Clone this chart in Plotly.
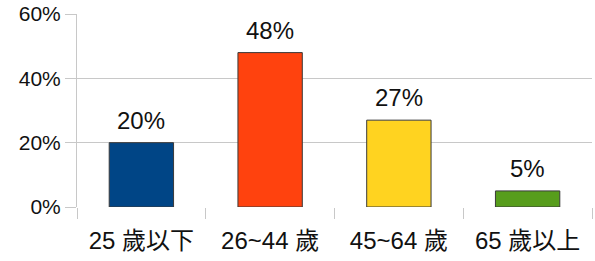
import plotly.graph_objects as go

categories = ["25 歲以下", "26~44 歲", "45~64 歲", "65 歲以上"]
values = [20, 48, 27, 5]
colors = ["#004586", "#ff420e", "#ffd320", "#579d1c"]
y_ticks = [0, 20, 40, 60]

font_family = "Liberation Sans, Arial, Noto Sans CJK TC, sans-serif"

fig = go.Figure()
fig.add_trace(go.Bar(
    x=categories,
    y=values,
    marker=dict(color=colors, line=dict(color="#3a3a3a", width=1)),
    width=0.5,
    hoverinfo="skip",
))

for c, v in zip(categories, values):
    fig.add_annotation(x=c, y=v, text=f"{v}%", showarrow=False,
                       yanchor="bottom", yshift=7,
                       font=dict(size=24, color="#111", family=font_family))

fig.update_layout(
    width=595, height=261,
    margin=dict(l=77, r=3, t=14, b=54),
    paper_bgcolor="white", plot_bgcolor="white",
    showlegend=False,
    font=dict(family=font_family, color="#111"),
    bargap=0.5,
)
fig.update_xaxes(
    type="category",
    tickson="boundaries",
    ticks="outside", ticklen=11, tickcolor="#c8c8c8", tickwidth=1,
    showgrid=False, showline=False, zeroline=False,
    tickfont=dict(size=24, family=font_family, color="#111"),
    ticklabelstandoff=17,
    automargin=False,
    range=[-0.5, 3.5],
)
fig.update_yaxes(
    range=[0, 60],
    tickvals=y_ticks,
    ticktext=[f"{t}%" for t in y_ticks],
    ticks="outside", ticklen=11, tickcolor="#c8c8c8", tickwidth=1,
    showgrid=True, gridcolor="#c8c8c8", gridwidth=1,
    showline=True, linecolor="#c8c8c8", linewidth=1,
    zeroline=False,
    automargin=False,
    tickfont=dict(size=21, family=font_family, color="#111"),
)

fig.write_html(
    "out.html",
    config={"displayModeBar": False, "staticPlot": True},
    post_script="document.body.style.margin='0';document.body.style.overflow='hidden';",
)
